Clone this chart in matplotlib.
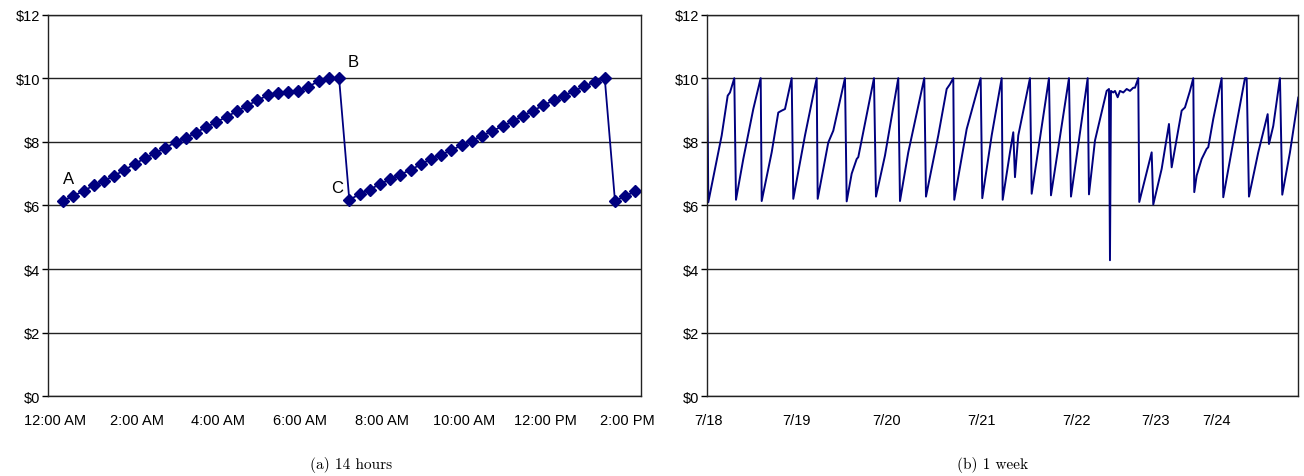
import numpy as np
import matplotlib
matplotlib.use("Agg")
import matplotlib.pyplot as plt
from matplotlib.ticker import FuncFormatter

# (a) 14 hours: price sampled every 15 minutes, first sample at 12:12 AM
day_price = [6.15, 6.30, 6.46, 6.63, 6.77, 6.94, 7.11, 7.31, 7.48, 7.64,
             7.82, 7.98, 8.13, 8.29, 8.46, 8.62, 8.79, 8.96, 9.14, 9.30,
             9.46, 9.54, 9.57, 9.60, 9.73, 9.91, 10.0, 10.0,
             6.18, 6.35, 6.50, 6.67, 6.82, 6.97, 7.12, 7.29, 7.46, 7.60,
             7.73, 7.90, 8.04, 8.19, 8.34, 8.49, 8.64, 8.82, 8.98, 9.15,
             9.30, 9.45, 9.60, 9.74, 9.88, 10.0,
             6.15, 6.29, 6.45]
day_ticks = [0, 2, 4, 6, 8, 10, 12, 14]
day_labels = ["12:00 AM", "2:00 AM", "4:00 AM", "6:00 AM",
              "8:00 AM", "10:00 AM", "12:00 PM", "2:00 PM"]
points = {"A": 0, "B": 27, "C": 28}

# (b) 1 week: observation number and price
week_idx = [0, 0.5, 1, 7.7, 14.4, 20.4, 22.7, 27, 28.7, 36, 46, 53.4, 54.4,
            64.4, 71, 74.4, 77.7, 84.4, 86, 97.7, 109.4, 110.4, 121, 126,
            137.7, 139.4, 144.4, 149.4, 151, 166.7, 168.7, 177.7, 191, 192.7,
            201, 217, 218.7, 231, 239.4, 242.7, 246, 247, 259.4, 269.4, 273.4,
            275, 284.4, 294.4, 295.4, 302.7, 306, 307.7, 311, 322.7, 324.4,
            341.7, 343.7, 361.7, 363.7, 380.4, 381.7, 387.7, 399.4, 401.7,
            402.7, 403.7, 406, 407.7, 410.4, 412.7, 416, 419.4, 422.7, 426,
            427.7, 431, 432, 444.4, 446, 454.4, 461.7, 464.4, 474.4, 477.7,
            482.7, 486, 487, 489.4, 494.4, 499.4, 501, 506, 514.4, 516, 527.7,
            537.7, 539.4, 541.7, 551, 560.4, 561.7, 566, 572.7, 575, 582.7, 591]
week_price = [10.0, 8.2, 6.1, 7.15, 8.2, 9.45, 9.55, 10.0, 6.18, 7.46, 9.03,
              10.0, 6.14, 7.67, 8.92, 8.98, 9.03, 10.0, 6.21, 8.2, 10.0, 6.21,
              7.98, 8.35, 10.0, 6.13, 7.0, 7.46, 7.52, 10.0, 6.28, 7.57, 10.0,
              6.14, 7.67, 10.0, 6.28, 8.2, 9.66, 9.81, 10.0, 6.18, 8.4, 9.55,
              10.0, 6.23, 8.2, 10.0, 6.18, 7.67, 8.3, 6.89, 8.2, 10.0, 6.37,
              10.0, 6.32, 10.0, 6.28, 10.0, 6.35, 8.04, 9.6, 9.66, 4.28, 9.6,
              9.55, 9.6, 9.4, 9.6, 9.55, 9.66, 9.6, 9.7, 9.7, 10.0, 6.11, 7.67,
              6.03, 7.15, 8.56, 7.2, 8.98, 9.08, 9.6, 10.0, 6.42, 6.94, 7.46,
              7.78, 7.83, 8.72, 10.0, 6.26, 8.3, 10.0, 10.0, 6.28, 7.67, 8.87,
              7.93, 8.5, 10.0, 6.34, 7.67, 9.39]
week_ticks = [1, 89, 179, 274, 369, 448, 509]
week_labels = ["7/18", "7/19", "7/20", "7/21", "7/22", "7/23", "7/24"]

navy = "#00007f"
plt.rcParams["font.family"] = ["Liberation Sans", "DejaVu Sans"]

fig = plt.figure(figsize=(13.04, 4.77), dpi=100)
ax1 = fig.add_axes([0.03704, 0.1667, 0.4543, 0.8008])
ax2 = fig.add_axes([0.5424, 0.1667, 0.4532, 0.8008])

def style(ax):
    ax.set_ylim(0, 12)
    ax.set_yticks(range(0, 13, 2))
    ax.yaxis.set_major_formatter(FuncFormatter(lambda v, p: "$%d" % v))
    ax.grid(axis="y", color="#222222", lw=1.0)
    ax.set_axisbelow(True)
    for s in ax.spines.values():
        s.set_color("#222222")
        s.set_linewidth(1.0)
    ax.tick_params(axis="y", length=4, width=1, pad=2, labelsize=10.5, direction="out")
    ax.tick_params(axis="x", length=0, pad=12, labelsize=10.5)

# left panel
hours = 0.2 + 0.25 * np.arange(len(day_price))
ax1.plot(hours, day_price, color=navy, lw=1.3, marker="D", markersize=6.5)
ax1.set_xlim(-0.164, 14.33)
ax1.set_xticks(day_ticks)
ax1.set_xticklabels(day_labels)
style(ax1)
offsets = {"A": (4, 16), "B": (10, 12), "C": (-9, 9)}
for name, i in points.items():
    ax1.annotate(name, (hours[i], day_price[i]), xytext=offsets[name],
                 textcoords="offset points", fontsize=12, ha="center", va="center")

# right panel
ax2.plot(week_idx, week_price, color=navy, lw=1.4)
ax2.set_xlim(0, 591)
ax2.set_xticks(week_ticks)
ax2.set_xticklabels(week_labels)
style(ax2)

fig.text(0.269, 0.017, "(a) 14 hours", family="cmr10", fontsize=11, ha="center")
fig.text(0.7615, 0.017, "(b) 1 week", family="cmr10", fontsize=11, ha="center")

fig.savefig("out.png", dpi=100)
